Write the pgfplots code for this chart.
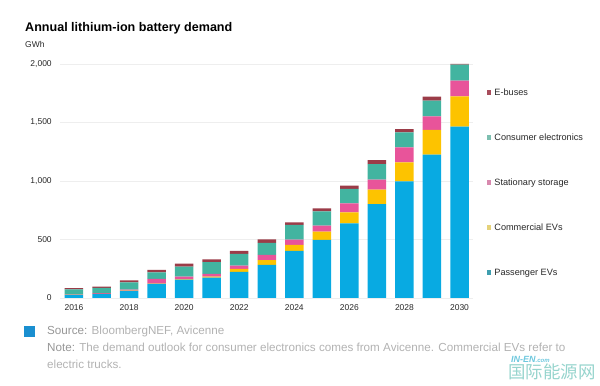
\documentclass[border=0pt]{standalone}
\usepackage{pgfplots}
\pgfplotsset{compat=1.18}
\usepackage{pgfplotstable}
\usepackage{fontspec}
\setmainfont{Liberation Sans}
\newfontfamily\cjk{Noto Sans CJK SC}
\definecolor{cPass}{RGB}{8,170,226}
\definecolor{cComm}{RGB}{253,195,0}
\definecolor{cStat}{RGB}{232,84,154}
\definecolor{cCons}{RGB}{66,180,160}
\definecolor{cBus}{RGB}{155,60,72}
\definecolor{lPass}{RGB}{63,158,175}
\definecolor{lComm}{RGB}{229,210,122}
\definecolor{lStat}{RGB}{216,137,174}
\definecolor{lCons}{RGB}{125,191,176}
\definecolor{lBus}{RGB}{168,77,92}
\definecolor{txt}{RGB}{40,40,40}
\definecolor{foot}{RGB}{178,178,178}
\definecolor{footb}{RGB}{150,150,150}
\definecolor{wm}{RGB}{150,212,205}
\definecolor{wmb}{RGB}{110,200,222}
\definecolor{gridc}{RGB}{238,238,238}
\definecolor{sq}{RGB}{26,143,208}

\pgfplotstableread{
year pass comm stat cons bus
2016 25 1 3 45 10
2017 35 1 5 46 10
2018 60 2 10 62 17
2019 120 3 40 57 20
2020 157 5 20 86 26
2021 174 8 24 100 25
2022 223 25 29 100 26
2023 283 40 46 103 29
2024 402 51 46 125 23
2025 496 71 51 123 26
2026 638 94 77 123 28
2027 803 123 85 134 34
2028 997 162 128 128 28
2029 1225 211 117 134 34
2030 1464 259 134 138 5
}\demand

\begin{document}
\begin{tikzpicture}[x=1bp,y=1bp]
\useasboundingbox (0bp,0bp) rectangle (600bp,386bp);
\begin{axis}[
  at={(60.2bp,88bp)}, anchor=south west,
  scale only axis, width=413.1bp, height=234bp,
  xmin=2015.5, xmax=2030.5, ymin=0, ymax=2000,
  ybar stacked, bar width=18.5bp,
  axis line style={draw=none},
  major tick length=0pt,
  ymajorgrids, grid style={draw=gridc, line width=0.5bp},
  xtick={2016,2018,...,2030},
  ytick={0,500,1000,1500,2000},
  /pgf/number format/assume math mode=true,
  xticklabel style={/pgf/number format/1000 sep=, font=\fontsize{8.5}{10}\selectfont, text=txt, yshift=-3bp},
  yticklabel style={/pgf/number format/1000 sep={,}, font=\fontsize{8.5}{10}\selectfont, text=txt, xshift=-5bp},
  clip=false,
  reverse legend,
  legend cell align=left,
  legend style={draw=none, fill=none, at={(1,1)}, anchor=north west,
    xshift=13bp, yshift=-23bp, inner sep=0pt, row sep=34bp, column sep=2.5bp,
    font=\fontsize{9.2}{10}\selectfont, text=txt,
    nodes={inner sep=1pt, text height=7bp, text depth=2bp}},
]
\addplot+[fill=cPass, draw=none, legend image code/.code={\fill[lPass] (0bp,-2.2bp) rectangle (4.4bp,2.2bp);}] table[x=year,y=pass] {\demand};
\addlegendentry{Passenger EVs}
\addplot+[fill=cComm, draw=none, legend image code/.code={\fill[lComm] (0bp,-2.2bp) rectangle (4.4bp,2.2bp);}] table[x=year,y=comm] {\demand};
\addlegendentry{Commercial EVs}
\addplot+[fill=cStat, draw=none, legend image code/.code={\fill[lStat] (0bp,-2.2bp) rectangle (4.4bp,2.2bp);}] table[x=year,y=stat] {\demand};
\addlegendentry{Stationary storage}
\addplot+[fill=cCons, draw=none, legend image code/.code={\fill[lCons] (0bp,-2.2bp) rectangle (4.4bp,2.2bp);}] table[x=year,y=cons] {\demand};
\addlegendentry{Consumer electronics}
\addplot+[fill=cBus, draw=none, legend image code/.code={\fill[lBus] (0bp,-2.2bp) rectangle (4.4bp,2.2bp);}] table[x=year,y=bus] {\demand};
\addlegendentry{E-buses}
\end{axis}
% titles
\node[anchor=base west, inner sep=0pt, text=black, font=\bfseries\fontsize{12.6}{14}\selectfont] at (25bp,354bp) {Annual lithium-ion battery demand};
\node[anchor=base west, inner sep=0pt, text=txt, font=\fontsize{8.5}{10}\selectfont] at (25bp,338bp) {GWh};
% footer
\fill[sq] (24bp,49bp) rectangle (35bp,60bp);
\node[anchor=base west, inner sep=0pt, text=foot, font=\fontsize{11.7}{13}\selectfont] at (47bp,51bp) {\textcolor{footb}{Source:} BloombergNEF, Avicenne};
\node[anchor=base west, inner sep=0pt, text=foot, font=\fontsize{11.7}{13}\selectfont] at (47bp,35bp) {\textcolor{footb}{Note:} The demand outlook for consumer electronics comes from Avicenne. Commercial EVs refer to};
\node[anchor=base west, inner sep=0pt, text=foot, font=\fontsize{11.7}{13}\selectfont] at (47bp,18bp) {electric trucks.};
% watermark
\node[anchor=base west, inner sep=0pt, text=wmb, font=\bfseries\itshape\fontsize{9}{10}\selectfont] at (511bp,23.5bp) {IN-EN{\fontsize{6}{7}\selectfont.com}};
\node[anchor=center, inner sep=0pt, text=wm, font=\cjk\fontsize{17.5}{18}\selectfont] at (552bp,14bp) {国际能源网};
\end{tikzpicture}
\end{document}
